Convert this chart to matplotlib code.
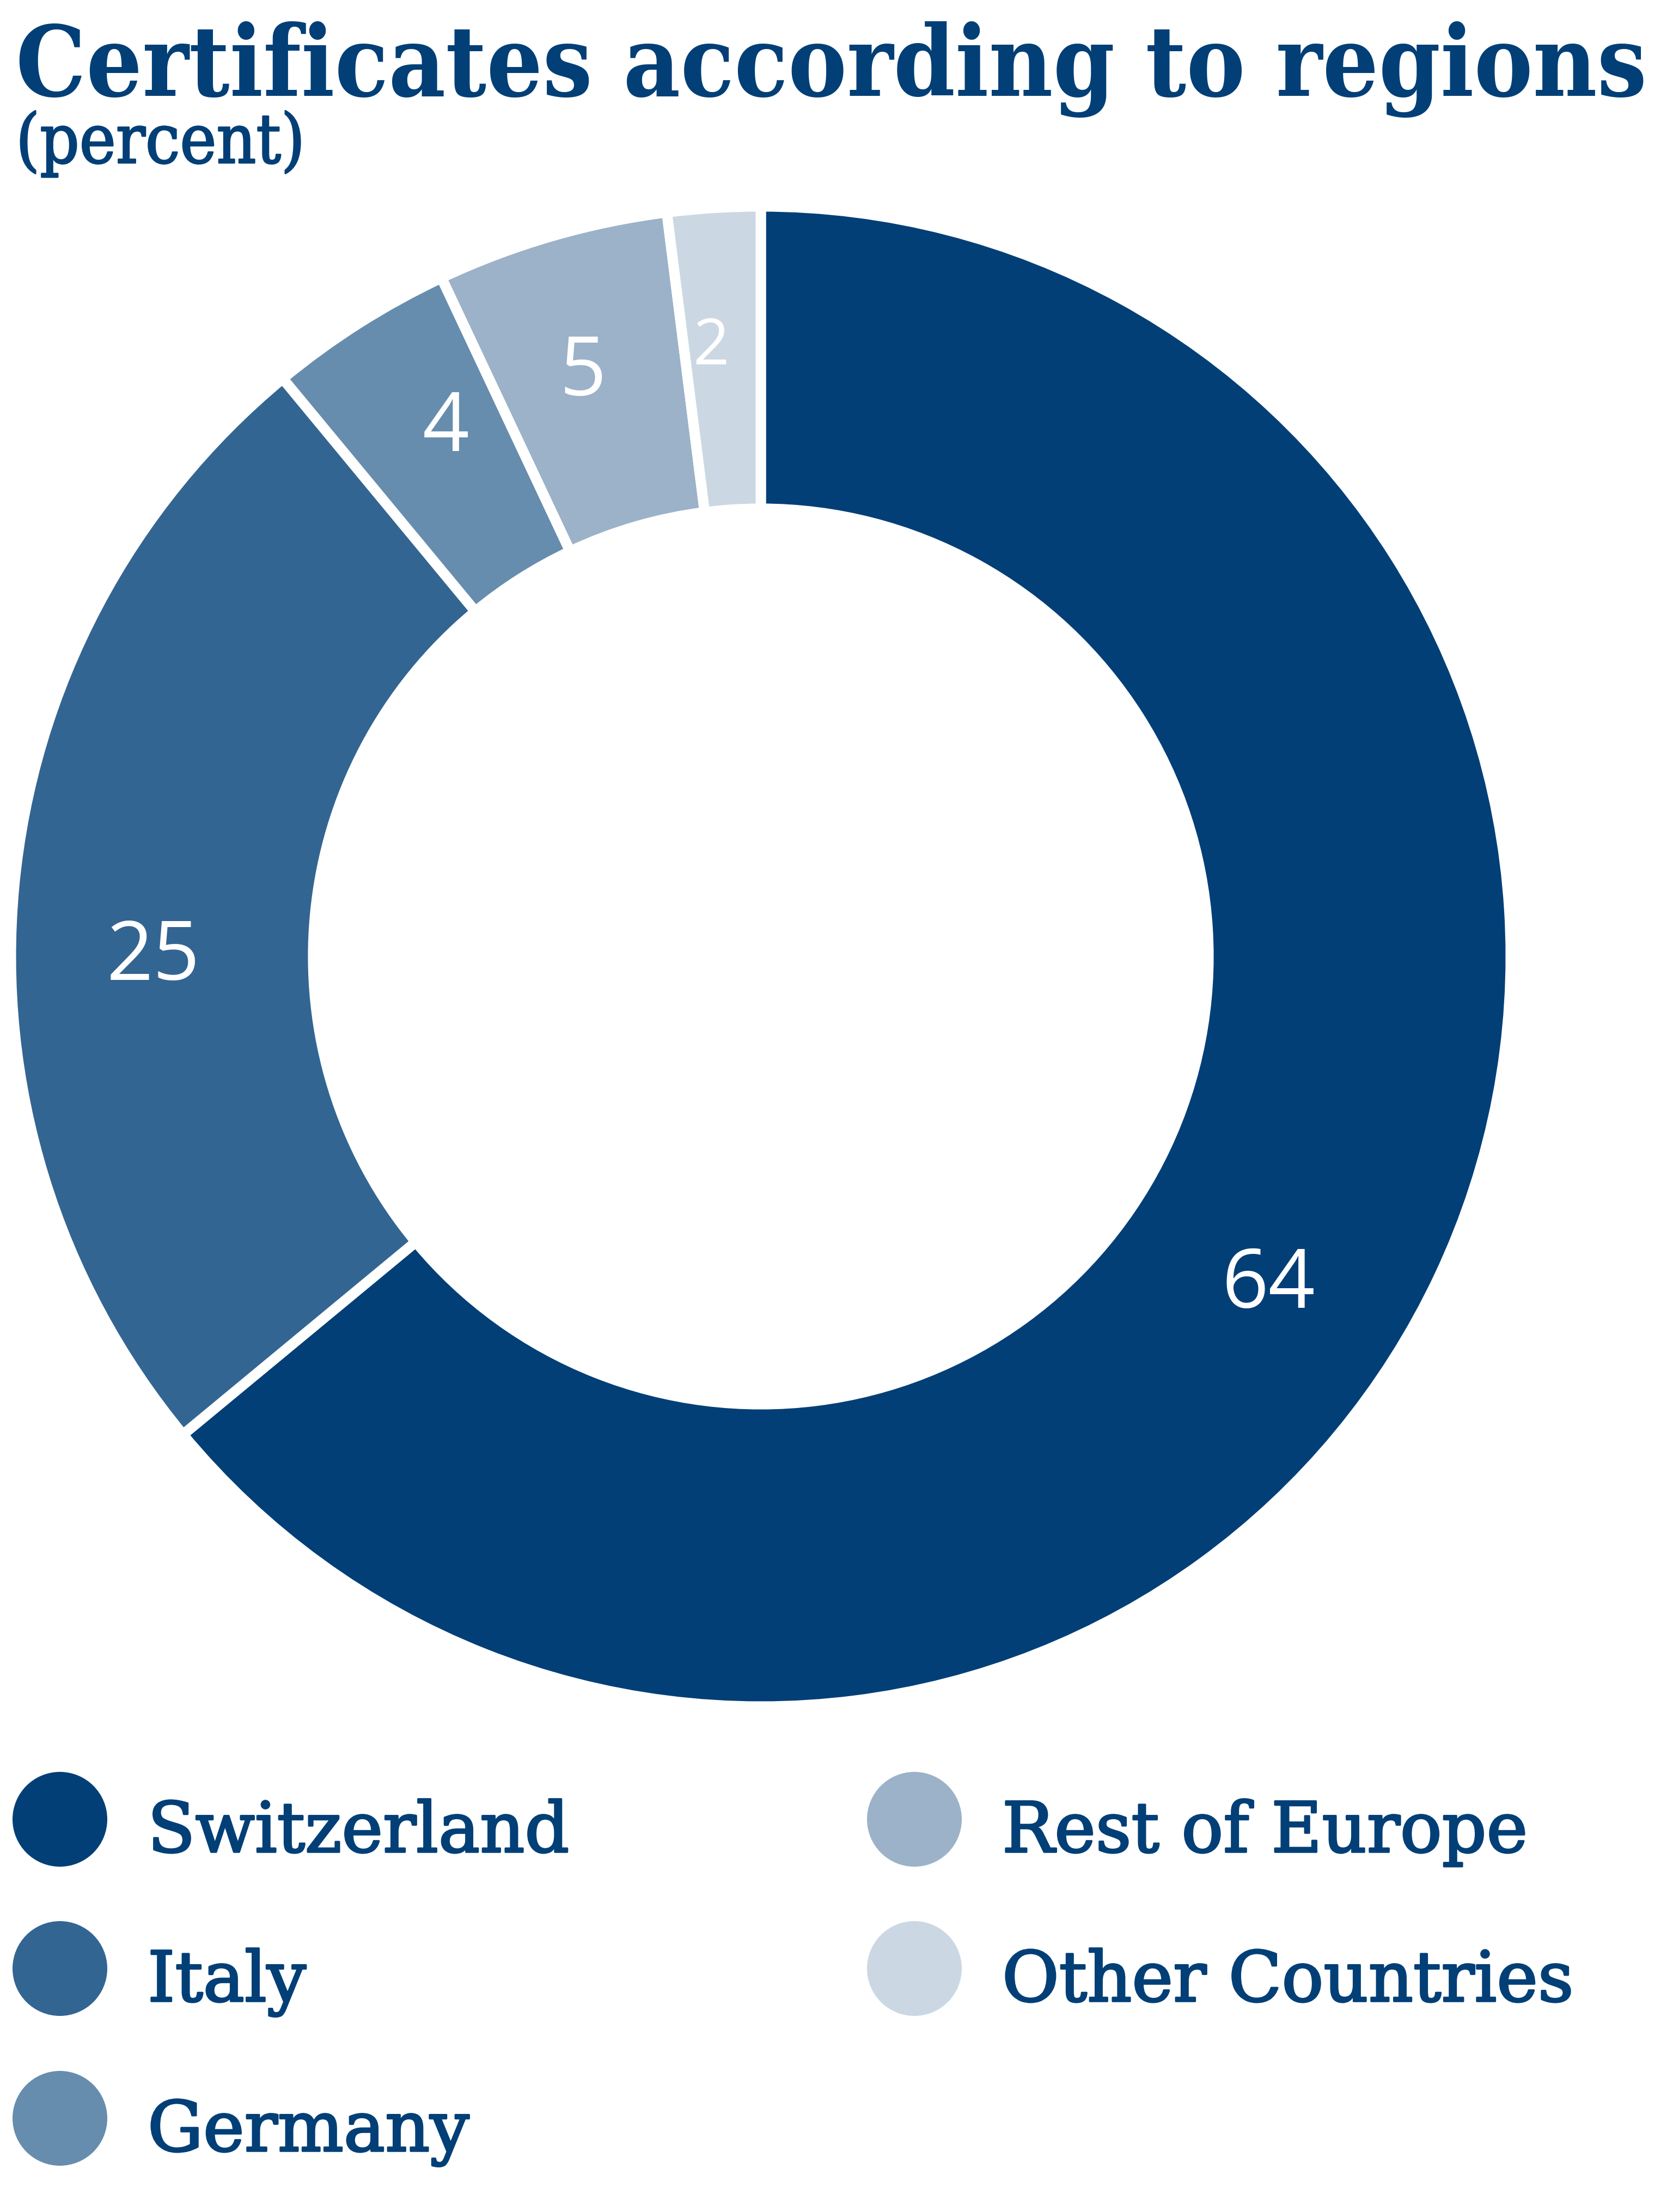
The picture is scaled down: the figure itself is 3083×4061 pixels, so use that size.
import os
import numpy as np
import matplotlib
matplotlib.use('Agg')
import matplotlib.pyplot as plt
import matplotlib.patheffects as pe
from matplotlib import font_manager as fm
from matplotlib.patches import Circle

# data
regions = ['Switzerland', 'Italy', 'Germany', 'Rest of Europe', 'Other Countries']
shares = [64, 25, 4, 5, 2]
colors = ['#023f77', '#336592', '#678dae', '#9bb2c9', '#cbd8e3']
navy = '#023f77'

# label placement (angle nudge in degrees, radius in pie units)
label_nudge = [-7.0, 4.6, -2.0, 0.5, 1.0]
label_r = [0.80, 0.81, 0.83, 0.825, 0.825]

W, H = 3083, 4062
fig = plt.figure(figsize=(W / 100, H / 100), dpi=100)


def serif_font(fname, weight):
    # prefer the condensed DejaVu Serif when it is installed
    for f in fm.fontManager.ttflist:
        if os.path.basename(f.fname) == fname:
            return fm.FontProperties(fname=f.fname)
    return fm.FontProperties(family='DejaVu Serif', weight=weight)


def fit_width(t, target):
    fig.canvas.draw()
    w = t.get_window_extent().width
    t.set_fontsize(t.get_fontsize() * target / w)


# pixel-space axes for title and legend
lax = fig.add_axes([0, 0, 1, 1])
lax.set_xlim(0, W)
lax.set_ylim(H, 0)
lax.axis('off')

title = lax.text(29, 176, 'Certificates according to regions', ha='left', va='baseline',
                 color=navy, fontproperties=serif_font('DejaVuSerifCondensed-Bold.ttf', 'bold'))
title.set_fontsize(133)
sub = lax.text(29, 300, '(percent)', ha='left', va='baseline',
               color=navy, fontproperties=serif_font('DejaVuSerifCondensed.ttf', 'normal'))
sub.set_fontsize(97)
sub.set_path_effects([pe.withStroke(linewidth=2, foreground=navy)])
fit_width(title, 2995)
fit_width(sub, 531)

# donut
cx, cy, R = 1397, 1757, 1377
half = 1.01
s = R * half
ax = fig.add_axes([(cx - s) / W, (H - cy - s) / H, 2 * s / W, 2 * s / H])
wedges, _ = ax.pie(shares, colors=colors, startangle=90, counterclock=False, radius=1,
                   wedgeprops=dict(width=0.403, edgecolor='white', linewidth=13.7))
ax.set_xlim(-half, half)
ax.set_ylim(-half, half)
ax.axis('off')

for w, v, dn, r in zip(wedges, shares, label_nudge, label_r):
    ang = np.deg2rad((w.theta1 + w.theta2) / 2 + dn)
    ax.text(r * np.cos(ang), r * np.sin(ang), str(v), ha='center', va='center_baseline',
            color='white', family='Open Sans', fontsize=84 if v < 3 else 108)

# legend
col_x = [110, 1679]
row_y = [3341, 3615, 3890]
for i, (name, c) in enumerate(zip(regions, colors)):
    x = col_x[i // 3]
    y = row_y[i % 3]
    lax.add_patch(Circle((x, y), 87, color=c, lw=0))
    lax.text(x + 161, y + 60, name, ha='left', va='baseline', color=navy,
             family='DejaVu Serif', fontsize=92,
             path_effects=[pe.withStroke(linewidth=2.5, foreground=navy)])

fig.savefig('out.png', dpi=100)
